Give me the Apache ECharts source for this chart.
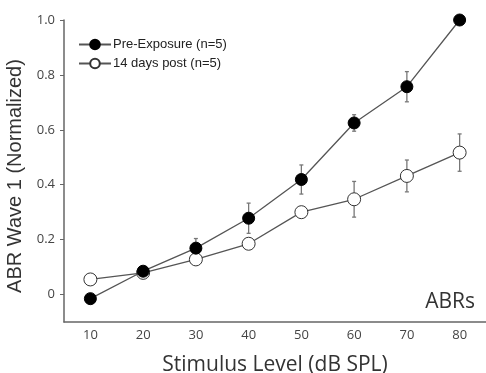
<!DOCTYPE html>
<html><head><meta charset="utf-8">
<script src="https://cdn.jsdelivr.net/npm/echarts@6/dist/echarts.min.js"></script>
<style>html,body{margin:0;padding:0;background:#fff}#c{width:486px;height:373px}</style>
</head><body><div id="c"></div>
<script>
const levels = ['10','20','30','40','50','60','70','80'];
const pre = [-0.015, 0.085, 0.169, 0.278, 0.419, 0.625, 0.757, 1.0];
const preErr = [0, 0.012, 0.035, 0.055, 0.053, 0.03, 0.055, 0];
const post = [0.055, 0.079, 0.128, 0.185, 0.30, 0.347, 0.432, 0.517];
const postErr = [0, 0.02, 0.02, 0.012, 0.015, 0.065, 0.058, 0.068];
const yTicks = [0, 0.2, 0.4, 0.6, 0.8, 1.0];

function errData(vals, errs){ return vals.map((v,i)=>[i, v-errs[i], v+errs[i]]); }
function errSeries(vals, errs){
  return {
    type:'custom', z:1, silent:true,
    data: errData(vals, errs),
    renderItem:function(params, api){
      const lo = api.coord([api.value(0), api.value(1)]);
      const hi = api.coord([api.value(0), api.value(2)]);
      const w = 2;
      const st = {stroke:'#777', lineWidth:1.3};
      return {type:'group', children:[
        {type:'line', shape:{x1:lo[0],y1:lo[1],x2:hi[0],y2:hi[1]}, style:st},
        {type:'line', shape:{x1:lo[0]-w,y1:lo[1],x2:lo[0]+w,y2:lo[1]}, style:st},
        {type:'line', shape:{x1:hi[0]-w,y1:hi[1],x2:hi[0]+w,y2:hi[1]}, style:st}
      ]};
    }
  };
}

const chart = echarts.init(document.getElementById('c'), null, {renderer:'canvas'});
chart.setOption({
  animation:false,
  backgroundColor:'#fff',
  grid:{left:64, top:20, right:0, bottom:51, containLabel:false, outerBoundsMode:'none'},
  legend:{
    orient:'vertical', left:73, top:33, itemGap:6, itemWidth:32, itemHeight:12,
    textStyle:{fontFamily:'Liberation Sans', fontSize:13, color:'#222', padding:[0,0,0,-3]},
    data:['Pre-Exposure (n=5)','14 days post (n=5)']
  },
  xAxis:{
    type:'category', data:levels, boundaryGap:true,
    name:'Stimulus Level (dB SPL)', nameLocation:'middle', nameGap:33,
    nameTextStyle:{fontFamily:'Open Sans', fontSize:21, color:'#333'},
    axisLine:{onZero:false, lineStyle:{color:'#666', width:1.5}},
    axisTick:{alignWithLabel:true, length:4, lineStyle:{color:'#666'}},
    axisLabel:{fontFamily:'Open Sans', fontSize:13, color:'#444', margin:7}
  },
  yAxis:{
    type:'value', min:-0.1, max:1.0,
    name:'ABR Wave 1 (Normalized)', nameLocation:'middle', nameGap:36,
    nameTextStyle:{fontFamily:'Liberation Sans', fontSize:20, color:'#333', padding:[0,10,0,0]},
    splitLine:{show:false},
    axisLine:{show:true, lineStyle:{color:'#666', width:1.5}},
    axisTick:{show:true, length:4, customValues:yTicks, lineStyle:{color:'#666'}},
    axisLabel:{fontFamily:'Open Sans', fontSize:13, color:'#444', margin:9, customValues:yTicks,
      formatter:v=> v===0 ? '0' : v.toFixed(1)}
  },
  graphic:[{type:'text', right:11, top:292, style:{text:'ABRs', font:'21px "Open Sans"', fill:'#333'}}],
  series:[
    errSeries(pre, preErr),
    errSeries(post, postErr),
    {name:'Pre-Exposure (n=5)', type:'line', data:pre, z:3,
      symbol:'circle', symbolSize:12,
      lineStyle:{color:'#555', width:1.3},
      itemStyle:{color:'#000', borderColor:'#000', borderWidth:1}},
    {name:'14 days post (n=5)', type:'line', data:post, z:2,
      symbol:'circle', symbolSize:13,
      lineStyle:{color:'#555', width:1.3},
      itemStyle:{color:'#fff', borderColor:'#333', borderWidth:1}}
  ]
});
</script></body></html>
